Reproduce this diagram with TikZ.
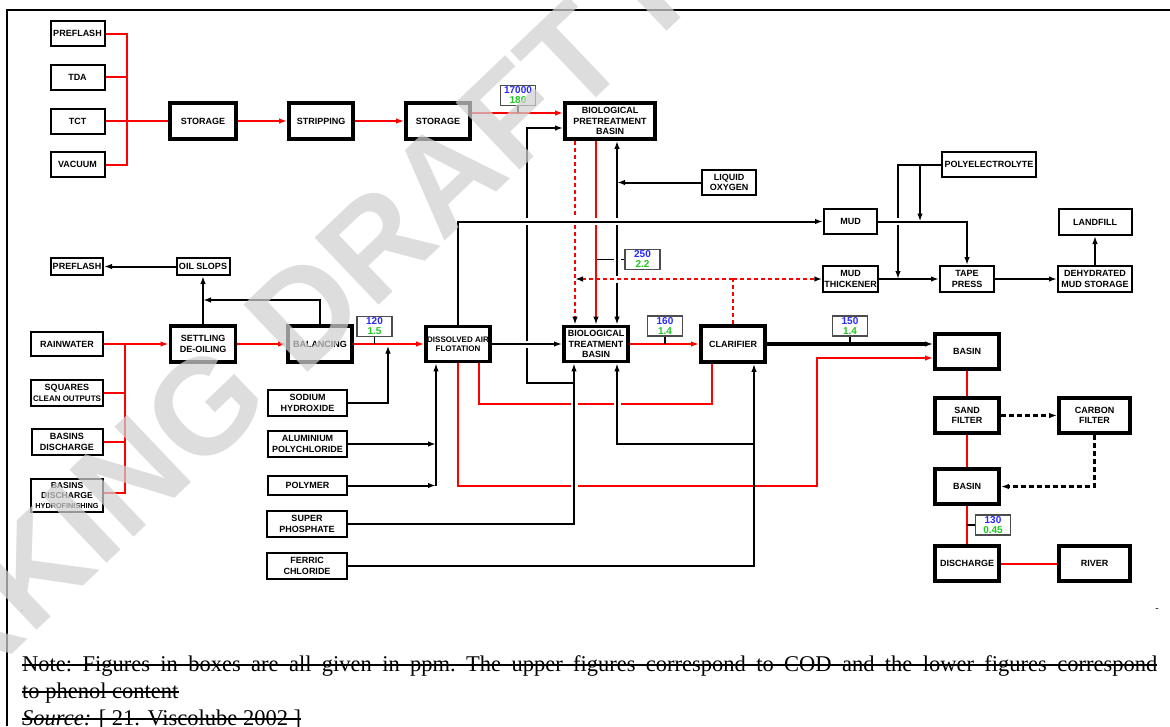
\documentclass[tikz,border=0pt]{standalone}
\usepackage{fontspec}
\setmainfont{Liberation Serif}
\newfontfamily\lsans{Liberation Sans}
\usetikzlibrary{arrows.meta}
\definecolor{valblue}{RGB}{40,40,255}
\definecolor{valgreen}{RGB}{30,200,30}
\definecolor{wmgray}{RGB}{208,208,208}
\definecolor{lred}{RGB}{255,0,0}
\tikzset{
  box/.style={draw, line width=2pt, inner sep=1pt, align=center,
    font=\lsans\bfseries\fontsize{9}{10.5}\selectfont},
  tbox/.style={box, line width=3.8pt},
  sz/.style 2 args={minimum width=#1pt, minimum height=#2pt},
  val/.style={draw=black!70, line width=1.3pt, inner sep=0pt, align=center,
    minimum width=35pt, minimum height=20pt,
    font=\lsans\bfseries\fontsize{10}{10}\selectfont},
  rl/.style={draw=lred, line width=2pt},
  bl/.style={draw=black, line width=2pt},
  arr/.style={-{Latex[length=8pt,width=5.5pt]}},
  karr/.style={-{Latex[length=8pt,width=5.5pt,color=black]}},
  dsh/.style={dash pattern=on 4pt off 3pt},
  bdsh/.style={line width=2.2pt, dash pattern=on 5pt off 3pt},
  halo/.style={preaction={draw=white, solid, line width=7pt, arrows=-,
    shorten <=5pt, shorten >=5pt}},
  note/.style={inner sep=0pt, anchor=base west, font=\fontsize{22.5}{27}\selectfont},
  wm/.style={inner sep=0pt, font=\lsans\bfseries\fontsize{135}{135}\selectfont,
    text=wmgray, text opacity=0.72},
}
\begin{document}
\begin{tikzpicture}[x=1pt,y=-1pt]
\useasboundingbox (0,0) rectangle (1170,726);
\fill[white] (0,0) rectangle (1170,726);
% frame
\draw[line width=2pt] (7,726) -- (7,10) -- (1170,10);

% ---------- boxes ----------
\node[box,sz={54}{25}] (pf)  at (77.5,33.5) {PREFLASH};
\node[box,sz={54}{25}] (tda) at (77.5,77) {TDA};
\node[box,sz={54}{25}] (tct) at (77.5,121) {TCT};
\node[box,sz={54}{25}] (vac) at (77.5,164.5) {VACUUM};
\node[tbox,sz={66}{36}] (st1) at (203,121) {STORAGE};
\node[tbox,sz={64}{36}] (strip) at (321,121) {STRIPPING};
\node[tbox,sz={64}{36}] (st2) at (438,121) {STORAGE};
\node[tbox,sz={90}{36}] (bpb) at (610,121) {BIOLOGICAL\\PRETREATMENT\\BASIN};
\node[val] (v1) at (518,95.5) {\textcolor{valblue}{17000}\\\textcolor{valgreen}{180}};
\node[box,sz={54}{25}] (lox) at (729,182.5) {LIQUID\\OXYGEN};
\node[box,sz={94}{25}] (poly) at (989,164.5) {POLYELECTROLYTE};
\node[box,sz={53}{25}] (mud) at (850.5,221.5) {MUD};
\node[box,sz={73}{26}] (land) at (1095,222) {LANDFILL};
\node[val] (v6) at (642.5,259.5) {\textcolor{valblue}{250}\\\textcolor{valgreen}{2.2}};
\node[box,sz={53}{26}] (mth) at (850.5,279) {MUD\\THICKENER};
\node[box,sz={54}{26}] (tp) at (967,279) {TAPE\\PRESS};
\node[box,sz={74}{26}] (dms) at (1095,279) {DEHYDRATED\\MUD STORAGE};

\node[box,sz={52}{17}] (pf2) at (77,266.5) {PREFLASH};
\node[box,sz={53}{17}] (oil) at (203,266.5) {OIL SLOPS};
\node[box,sz={72}{24}] (rain) at (67,344) {RAINWATER};
\node[box,sz={72}{26}] (sq) at (67,393) {SQUARES\\{\fontsize{8}{9}\selectfont CLEAN OUTPUTS}};
\node[box,sz={71}{26}] (bd) at (67,442) {BASINS\\DISCHARGE};
\node[box,sz={72}{33},font=\lsans\bfseries\fontsize{8.6}{9.6}\selectfont] (hy) at (67,495.5)
  {BASINS\\DISCHARGE\\{\fontsize{7.3}{8}\selectfont HYDROFINISHING}};
\node[tbox,sz={65}{36}] (set) at (203,344) {SETTLING\\DE-OILING};
\node[tbox,sz={64}{36}] (bal) at (320,344) {BALANCING};
\node[val] (v2) at (374.5,326.5) {\textcolor{valblue}{120}\\\textcolor{valgreen}{1.5}};
\node[tbox,sz={64}{35},font=\lsans\bfseries\fontsize{8}{9.5}\selectfont] (daf) at (458,344) {DISSOLVED AIR\\FLOTATION};
\node[tbox,sz={64}{35}] (btb) at (596,344) {BIOLOGICAL\\TREATMENT\\BASIN};
\node[val] (v3) at (665,326) {\textcolor{valblue}{160}\\\textcolor{valgreen}{1.4}};
\node[tbox,sz={64}{36}] (clar) at (733,344) {CLARIFIER};
\node[val] (v4) at (850,326) {\textcolor{valblue}{150}\\\textcolor{valgreen}{1.4}};

\node[tbox,sz={64}{35}] (b1) at (967,351.5) {BASIN};
\node[tbox,sz={64}{35}] (sand) at (967,415.5) {SAND\\FILTER};
\node[tbox,sz={71}{35}] (carb) at (1094.5,415.5) {CARBON\\FILTER};
\node[tbox,sz={64}{35}] (b2) at (967,486.5) {BASIN};
\node[tbox,sz={64}{35}] (dis) at (967,563.5) {DISCHARGE};
\node[tbox,sz={71}{35}] (river) at (1094.5,563.5) {RIVER};
\node[val] (v5) at (993,525) {\textcolor{valblue}{130}\\\textcolor{valgreen}{0.45}};

\node[box,sz={79}{26}] (soda) at (307.5,403) {SODIUM\\HYDROXIDE};
\node[box,sz={79}{26}] (alu) at (307.5,444) {ALUMINIUM\\POLYCHLORIDE};
\node[box,sz={79}{19}] (polym) at (307.5,485.5) {POLYMER};
\node[box,sz={80}{26}] (sp) at (307,524) {SUPER\\PHOSPHATE};
\node[box,sz={80}{26}] (fc) at (307,566) {FERRIC\\CHLORIDE};

% ---------- junction points ----------
\coordinate (bt) at (127,121);
\coordinate (bb) at (125,344);
\coordinate (t1) at (518,113);
\coordinate (xa) at (575,0);
\coordinate (xb) at (596,0);
\coordinate (xc) at (617,0);
\coordinate (xal) at (436,0);
\coordinate (r1) at (712,404);
\coordinate (r2) at (479,404);
\coordinate (r3) at (458,486);
\coordinate (r4) at (817,486);
\coordinate (r5) at (817,358);
\coordinate (jp) at (574,383);
\coordinate (j527) at (527,383);
\coordinate (c527) at (527,128);
\coordinate (jfc) at (754,444);
\coordinate (jlox) at (617,182.5);
\coordinate (jclar) at (733,279);
\coordinate (jmud) at (458,221.5);
\coordinate (jna) at (388,345.5);
\coordinate (jbal) at (203,300);
\coordinate (jpe) at (920,164.5);
\coordinate (jpe2) at (898,164.5);

% ---------- raw material feed ----------
\draw[rl] (pf.east) -| (bt);
\draw[rl] (vac.east) -| (bt);
\draw[rl] (tda.east) -- (tda.east -| bt);
\draw[rl] (tct.east) -- (st1.west);
\draw[rl,arr] (st1) -- (strip);
\draw[rl,arr] (strip) -- (st2);
\draw[rl,arr] ([yshift=8pt]st2.east) -- ([yshift=8pt]bpb.west);
\draw[bl,line width=1.4pt] (v1.south) -- (t1);

% ---------- return lines below the flotation unit ----------
\draw[rl] (daf.south -| r2) -- (r2) -- (r1) -- (clar.south -| r1);
\draw[rl,arr] (daf.south) -- (r3) -- (r4) -- (r5) -- (r5 -| b1.west);

% ---------- super phosphate ----------
\draw[bl,arr,halo] (sp.east) -| (btb.south -| jp);
\draw[bl,arr] (jp) -- (j527) -- (c527) -- (c527 -| bpb.west);

% ---------- ferric chloride ----------
\draw[bl,arr] (fc.east) -| (clar.south -| jfc);
\draw[bl,arr,halo] (jfc) -| (btb.south -| xc);

% ---------- liquid oxygen ----------
\draw[bl,line width=1.4pt] (v6.west -| xb) -- (v6.west);
\draw[bl,arr,halo] (jlox) -- (btb.north -| jlox);
\draw[bl,arr] (lox.west) -- (jlox);
\draw[bl,arr] (jlox) -- (bpb.south -| jlox);

% ---------- sludge from clarifier ----------
\draw[rl,dsh] (clar.north) -- (jclar);
\draw[rl,dsh,karr,halo] (jclar) -- (jclar -| xa);
\draw[rl,dsh,karr] (jclar) -- (mth.west);

% ---------- pretreatment to treatment basin ----------
\draw[rl,dsh,karr] (bpb.south -| xa) -- (btb.north -| xa);
\draw[rl,karr] (bpb.south -| xb) -- (btb.north -| xb);

% ---------- flotation to mud ----------
\draw[bl,arr,halo] (daf.north) -- (jmud) -- (mud.west);
\draw[bl,arr,halo] (daf) -- (btb);

% ---------- main water line ----------
\draw[rl,arr] (rain) -- (set);
\draw[rl] (sq.east) -- (sq.east -| bb);
\draw[rl] (bd.east) -- (bd.east -| bb);
\draw[rl] ([yshift=3pt]hy.east) -| (bb);
\draw[rl,arr] (set) -- (bal);
\draw[rl,arr] (bal) -- (daf);
\draw[bl,line width=1.4pt] (v2.south) -- (v2.south |- bal.east);
\draw[bl,arr] (soda.east) -| (jna);
\draw[bl,arr] (alu.east) -- (alu.east -| xal);
\draw[bl,arr] (polym.east) -- (polym.east -| xal);
\draw[bl,arr] (polym.east -| xal) -- (daf.south -| xal);
\draw[rl,arr] (btb) -- (clar);
\draw[bl,line width=1.4pt] (v3.south) -- (v3.south |- btb.east);
\draw[bl,line width=3.4pt,arr] (clar.east) -- (clar.east -| b1.west);
\draw[bl,line width=1.4pt] (v4.south) -- (v4.south |- clar.east);

% ---------- oil slops ----------
\draw[bl,arr] (bal.north) |- (jbal);
\draw[bl,arr] (set.north) -- (oil.south);
\draw[bl,arr] (oil) -- (pf2);

% ---------- mud treatment ----------
\draw[bl,arr] (poly.west) -- (jpe2) -- (jpe2 |- mth.east);
\draw[bl,arr,halo] (mud.east) -| (tp.north);
\draw[bl,arr] (jpe) -- (jpe |- mud.east);
\draw[bl,arr] (mth) -- (tp);
\draw[bl,arr] (tp) -- (dms);
\draw[bl,arr] (dms) -- (land);

% ---------- final basins ----------
\draw[rl] (b1) -- (sand);
\draw[rl] (sand) -- (b2);
\draw[rl] (b2) -- (dis);
\draw[rl] (dis) -- (river);
\draw[bl,line width=1.4pt] (v5.west) -- (v5.west -| b2.south);
\draw[bl,bdsh,arr] (sand) -- (carb);
\draw[bl,bdsh,arr] (carb.south) |- (b2.east);

% ---------- footnote ----------
\node[inner sep=0pt,anchor=base,font=\fontsize{10}{10}\selectfont] (dot) at (22,611) {.};
\node[inner sep=0pt,anchor=base,font=\fontsize{10}{10}\selectfont] (dash) at (1157,611) {-};
\node[note] (n1) at (22,671) {\frenchspacing\makebox[1135pt][s]{Note: Figures in boxes are all given in ppm. The upper figures correspond to COD and the lower figures correspond}};
\node[note] (n2) at (22,698) {to phenol content};
\node[note] (n3) at (22,725) {\textit{Source:} [ 21. Viscolube 2002 ]};
\draw[line width=1.4pt] ([yshift=6pt]n1.base west) -- ([yshift=6pt]n1.base east);
\draw[line width=1.4pt] ([yshift=6pt]n2.base west) -- ([yshift=6pt]n2.base east);
\draw[line width=1.4pt] ([yshift=6pt]n3.base west) -- ([yshift=6pt]n3.base east);

% ---------- watermark ----------
\node[wm,anchor=base west,rotate=43.6] (wm1) at (30,637) {KING DRAFT I};
\node[wm,anchor=base east,rotate=43.6] (wm0) at (30,637) {WOR};
\end{tikzpicture}
\end{document}
